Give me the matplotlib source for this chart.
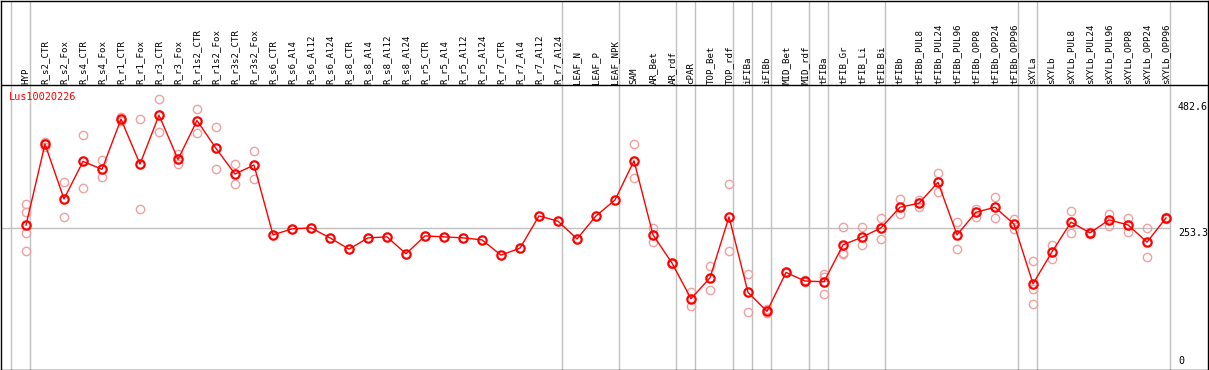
import numpy as np
import matplotlib
matplotlib.use("Agg")
import matplotlib.pyplot as plt

# sample names (x axis, top labels)
samples = ["HYP",
           "R_s2_CTR", "R_s2_Fox", "R_s4_CTR", "R_s4_Fox", "R_r1_CTR", "R_r1_Fox",
           "R_r3_CTR", "R_r3_Fox", "R_r1s2_CTR", "R_r1s2_Fox", "R_r3s2_CTR", "R_r3s2_Fox",
           "R_s6_CTR", "R_s6_Al4", "R_s6_Al12", "R_s6_Al24",
           "R_s8_CTR", "R_s8_Al4", "R_s8_Al12", "R_s8_Al24",
           "R_r5_CTR", "R_r5_Al4", "R_r5_Al12", "R_r5_Al24",
           "R_r7_CTR", "R_r7_Al4", "R_r7_Al12", "R_r7_Al24",
           "LEAF_N", "LEAF_P", "LEAF_NPK",
           "SAM", "AR_Bet", "AR_rdf", "cPAR", "TOP_Bet", "TOP_rdf",
           "iFIBa", "iFIBb", "MID_Bet", "MID_rdf", "tFIBa",
           "tFIB_Gr", "tFIB_Li", "tFIB_Bi",
           "tFIBb", "tFIBb_PUL8", "tFIBb_PUL24", "tFIBb_PUL96",
           "tFIBb_OPP8", "tFIBb_OPP24", "tFIBb_OPP96",
           "sXYLa", "sXYLb", "sXYLb_PUL8", "sXYLb_PUL24", "sXYLb_PUL96",
           "sXYLb_OPP8", "sXYLb_OPP24", "sXYLb_OPP96"]

# mean expression per sample
mean_expr = [258.5,
             412.6, 308.3, 379.7, 364.6, 459.9, 374.6,
             467.5, 383.5, 457.4, 404.4, 355.7, 372.8,
             240.1, 251.5, 253.4, 234.4,
             213.0, 234.4, 236.3, 204.1,
             238.2, 236.3, 234.4, 230.6,
             201.6, 214.9, 276.1, 266.1,
             232.5, 276.1, 306.4,
             380.9, 240.1, 186.5, 118.8, 158.6, 274.2,
             130.8, 94.8, 168.7, 152.4, 151.0,
             221.1, 235.7, 253.4,
             292.6, 300.2, 340.0, 240.1,
             283.1, 292.6, 260.4,
             147.2, 207.9, 264.2, 243.9, 268.5,
             259.0, 226.3, 272.3]

# individual replicates (empty where only the mean is shown)
replicates = [[298.3, 283.1, 243.3, 209.2],
              [417, 414, 407], [340.0, 274.2], [429.0, 328.6], [382.2, 349.4],
              [464, 456], [461.2, 288.8],
              [499.1, 434.7], [393.6, 374.1], [480.2, 432.8], [444.2, 365.2],
              [374.6, 336.2], [399.3, 345.6],
              [], [], [], [],
              [], [], [], [],
              [], [], [], [],
              [], [], [], [],
              [], [], [],
              [412.6, 347.5], [253.9, 226.3], [187, 185], [131.5, 105.0],
              [181.4, 135.9], [336.2, 209.2],
              [166.2, 93.6], [99, 91], [170, 167], [155, 150], [165, 160, 128],
              [255.3, 205.4, 203], [255.3, 221.7], [272.9, 231.9],
              [308.3, 279.9], [306, 294], [357, 321], [265.3, 213.0],
              [290, 275], [312.1, 272.3], [271, 251],
              [190.3, 137.2, 108.8], [221.7, 194.0], [285.6, 243.3],
              [246, 241], [280.5, 257.7],
              [272.9, 245.2], [253.4, 197.8], [274, 270]]

# last sample of each group (a grey separator follows it)
group_ends = ["HYP", "R_r7_Al24", "LEAF_NPK", "AR_rdf", "cPAR", "TOP_rdf",
              "iFIBa", "iFIBb", "MID_rdf", "tFIBa", "tFIB_Bi",
              "tFIBb_OPP96", "sXYLa", "sXYLb_OPP96"]

gene = "Lus10020226"
y_top = 482.6
y_mid = 253.3

mono = "DejaVu Sans Mono"
x = np.arange(len(samples))

fig = plt.figure(figsize=(12.09, 3.70), dpi=100)
ax = fig.add_axes([1 / 1209, 0.5 / 370, 1207 / 1209, 369 / 370])
ax.set_xlim(-1.316, 62.21)
ax.set_ylim(-15.7, 685.4)
ax.set_xticks([])
ax.set_yticks([])
for s in ax.spines.values():
    s.set_color("black")
    s.set_linewidth(1)

# separators
sep_pos = [-0.78] + [samples.index(n) + 0.22 for n in group_ends]
for p in sep_pos:
    ax.axvline(p, color="#c0c0c0", lw=1, zorder=1)
ax.hlines(y_mid, -1.316, sep_pos[-1], color="#c0c0c0", lw=1, zorder=1)
ax.axhline(524.3, color="black", lw=1, zorder=2)

# replicates
for i, reps in enumerate(replicates):
    if reps:
        ax.plot([i] * len(reps), reps, "o", ms=6, mfc="none", mec="#f0a0a0",
                mew=1, zorder=3)

# means
ax.plot(x, mean_expr, "-", color="red", lw=1, zorder=4)
ax.plot(x, mean_expr, "o", ms=6, mfc="none", mec="red", mew=1.6, zorder=5)

# sample labels
for i, name in enumerate(samples):
    ax.text(i, 527.6, name, rotation=90, ha="center", va="bottom",
            family=mono, fontsize=6.6, color="black")

ax.text(-0.88, 502.2, gene, ha="left", va="center", family=mono,
        fontsize=7.4, color="red")

# right hand scale
lab_x = 60.63
ax.text(lab_x, y_top, f"{y_top}", ha="left", va="center", family=mono, fontsize=7.2)
ax.text(lab_x, y_mid, f"{y_mid}", ha="left", va="top", family=mono, fontsize=7.2)
ax.text(lab_x, 0, "0", ha="left", va="center", family=mono, fontsize=7.2)

fig.savefig("out.png", dpi=100)
